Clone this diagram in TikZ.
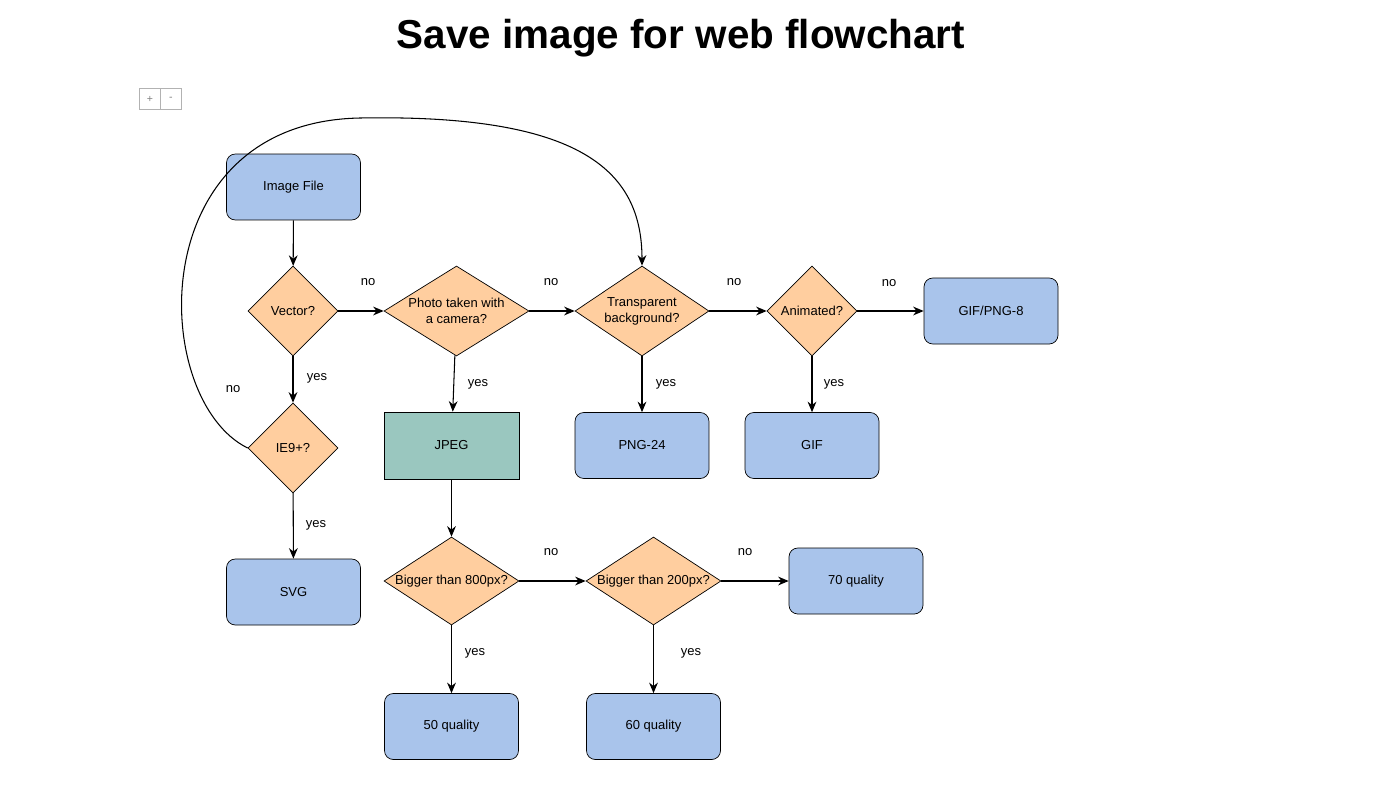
\documentclass[tikz,border=0pt]{standalone}
\usepackage{fontspec}
\setmainfont{Liberation Sans}
\usetikzlibrary{shapes.geometric,arrows.meta}
\definecolor{boxblue}{HTML}{A9C4EB}
\definecolor{decor}{HTML}{FFCE9F}
\definecolor{jpeg}{HTML}{9AC7BF}
\begin{document}
\begin{tikzpicture}[x=0.02cm,y=-0.02cm,
  every node/.style={font=\fontsize{7.4}{9}\selectfont},
  box/.style={draw,rounded corners=5pt,fill=boxblue,minimum width=2.68cm,minimum height=1.32cm,inner sep=0pt},
  dec/.style={draw,diamond,fill=decor,inner sep=0pt,align=center},
  arr/.style={-{Stealth[length=6pt,width=5pt]},semithick},
  lab/.style={inner sep=1pt}
]
\useasboundingbox (0,0) rectangle (1381,788);
\node[font=\fontsize{23}{28}\selectfont\bfseries] (title) at (681,38) {Save image for web flowchart};
\node[draw=gray!60,minimum width=0.42cm,minimum height=0.42cm,inner sep=0pt,text=gray,font=\fontsize{6}{7}\selectfont] (plus) at (150,99) {+};
\node[draw=gray!60,minimum width=0.42cm,minimum height=0.42cm,inner sep=0pt,text=gray,font=\fontsize{6}{7}\selectfont] (minus) at (171,99) {-};

\node[box] (img) at (293.5,187) {Image File};
\node[dec,minimum width=1.8cm,minimum height=1.8cm] (vec) at (293,311) {Vector?};
\node[dec,minimum width=1.8cm,minimum height=1.8cm] (ie) at (293,448) {IE9+?};
\node[box] (svg) at (293.5,592) {SVG};
\node[dec,minimum width=2.9cm,minimum height=1.8cm,shape aspect=1.6] (photo) at (456.5,311) {Photo taken with\\a camera?};
\node[draw,fill=jpeg,minimum width=2.7cm,minimum height=1.34cm,inner sep=0pt] (jpg) at (451.5,445.5) {JPEG};
\node[dec,minimum width=2.68cm,minimum height=1.8cm,shape aspect=1.5] (trans) at (642,311) {Transparent\\background?};
\node[box] (png) at (642,445.5) {PNG-24};
\node[dec,minimum width=1.8cm,minimum height=1.8cm] (anim) at (812,311) {Animated?};
\node[box] (gif) at (812,445.5) {GIF};
\node[box] (gp) at (991,311) {GIF/PNG-8};
\node[dec,minimum width=2.7cm,minimum height=1.76cm,shape aspect=1.6] (b8) at (451.5,581) {Bigger than 800px?};
\node[dec,minimum width=2.7cm,minimum height=1.76cm,shape aspect=1.6] (b2) at (653.5,581) {Bigger than 200px?};
\node[box] (q70) at (856,581) {70 quality};
\node[box] (q50) at (451.5,726.5) {50 quality};
\node[box] (q60) at (653.5,726.5) {60 quality};

\draw[arr] (img) -- (vec);
\draw[arr] (vec) -- (ie);
\draw[arr] (ie) -- (svg);
\draw[arr] (vec) -- (photo);
\draw[arr] (photo) -- (jpg);
\draw[arr] (photo) -- (trans);
\draw[arr] (trans) -- (png);
\draw[arr] (trans) -- (anim);
\draw[arr] (anim) -- (gif);
\draw[arr] (anim) -- (gp);
\draw[arr] (jpg) -- (b8);
\draw[arr] (b8) -- (q50);
\draw[arr] (b8) -- (b2);
\draw[arr] (b2) -- (q60);
\draw[arr] (b2) -- (q70);
\draw[arr] (ie.west) .. controls (150,400) and (140,122) .. (360,118) .. controls (580,114) and (642,170) .. (trans.north);

\node[lab] (l1) at (368,282) {no};
\node[lab] (l2) at (551,282) {no};
\node[lab] (l3) at (734,282) {no};
\node[lab] (l4) at (889,283) {no};
\node[lab] (l5) at (317,378) {yes};
\node[lab] (l6) at (478,384) {yes};
\node[lab] (l7) at (666,384) {yes};
\node[lab] (l8) at (834,384) {yes};
\node[lab] (l9) at (233,389) {no};
\node[lab] (l10) at (316,525) {yes};
\node[lab] (l11) at (551,552) {no};
\node[lab] (l12) at (745,552) {no};
\node[lab] (l13) at (475,653) {yes};
\node[lab] (l14) at (691,653) {yes};
\end{tikzpicture}
\end{document}
